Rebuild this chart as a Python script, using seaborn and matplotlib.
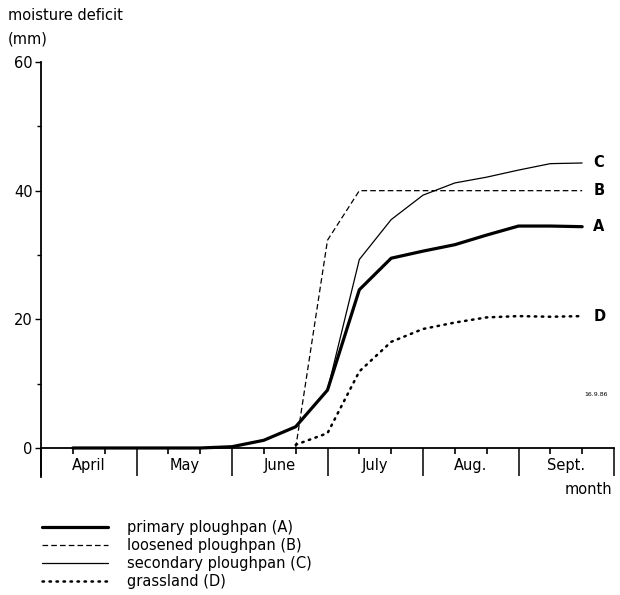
import matplotlib
matplotlib.use("Agg")
import matplotlib.pyplot as plt
import seaborn as sns

# Moisture deficit (mm) at the end of each ten-day period, counted from 1 April
decade = list(range(1, 18))
primary = [0, 0, 0, 0, 0, 0.2, 1.2, 3.3, 9.0, 24.6, 29.5, 30.6, 31.6, 33.1, 34.5, 34.5, 34.4]
secondary = [0, 0, 0, 0, 0, 0.2, 1.2, 3.3, 9.0, 29.3, 35.5, 39.3, 41.2, 42.1, 43.2, 44.2, 44.3]
late_decade = list(range(8, 18))
loosened = [0, 32.3, 40, 40, 40, 40, 40, 40, 40, 40]
grassland = [0.5, 2.3, 11.9, 16.5, 18.5, 19.5, 20.3, 20.5, 20.4, 20.5]

months = ["April", "May", "June", "July", "Aug.", "Sept."]
y_major = [0, 20, 40, 60]
y_minor = [10, 30, 50]

sns.set_theme(style="white")
plt.rcParams["font.family"] = ["DejaVu Sans"]

W, H = 620, 595
fig = plt.figure(figsize=(W / 100, H / 100), dpi=100)
fig.patch.set_facecolor("white")

# axes frame: x from 1 April (0) to 30 Sept (18 ten-day periods)
ax_left, ax_right, ax_top, ax_bottom = 41, 614, 62, 477
ax = fig.add_axes([ax_left / W, 1 - ax_bottom / H, (ax_right - ax_left) / W, (ax_bottom - ax_top) / H])
ax.set_facecolor("white")
ymin = -4.51
ax.set_xlim(0, 18)
ax.set_ylim(ymin, 60)

series = [
    ("primary ploughpan (A)", decade, primary, dict(lw=2.3, linestyle="-"), "A"),
    ("loosened ploughpan (B)", late_decade, loosened, dict(lw=0.9, linestyle=(0, (4.5, 2.5))), "B"),
    ("secondary ploughpan (C)", decade, secondary, dict(lw=0.9, linestyle="-"), "C"),
    ("grassland (D)", late_decade, grassland, dict(lw=1.8, linestyle=(0, (0.6, 2.2)), dash_capstyle="round"), "D"),
]

for label, xs, ys, style, tag in series:
    sns.lineplot(x=xs, y=ys, ax=ax, color="black", label=label, **style)
    ax.text(17.35, ys[-1], tag, fontsize=10.5, fontweight="bold", ha="left", va="center", color="black")

# spines
for s in ("top", "right"):
    ax.spines[s].set_visible(False)
ax.spines["bottom"].set_position(("data", 0))
ax.spines["bottom"].set_linewidth(1.3)
ax.spines["left"].set_linewidth(1.3)
ax.spines["bottom"].set_color("black")
ax.spines["left"].set_color("black")

# x ticks: long at month boundaries, short at ten-day marks
ax.set_xticks(list(range(0, 19, 3)))
ax.set_xticks([d for d in range(1, 18) if d % 3], minor=True)
ax.tick_params(axis="x", which="major", direction="out", length=20, width=1.1, color="black",
               labelbottom=False, bottom=True)
ax.tick_params(axis="x", which="minor", direction="out", length=4, width=1.2, color="black", bottom=True)

for i, m in enumerate(months):
    ax.text(1.5 + 3 * i, -2.65, m, ha="center", va="center", fontsize=10.5, color="black")

# y ticks
ax.set_yticks(y_major)
ax.set_yticks(y_minor, minor=True)
ax.tick_params(axis="y", which="major", direction="out", length=4.5, width=1.0, color="black",
               labelsize=10.5, pad=1.5, left=True, labelcolor="black")
ax.tick_params(axis="y", which="minor", direction="out", length=3, width=1.0, color="black", left=True)
ax.grid(False)

ax.set_xlabel("")
ax.set_ylabel("")

fig.text(8 / W, 1 - 16 / H, "moisture deficit", ha="left", va="center", fontsize=10.5, color="black")
fig.text(8 / W, 1 - 39 / H, "(mm)", ha="left", va="center", fontsize=10.5, color="black")
fig.text(612 / W, 1 - 489 / H, "month", ha="right", va="center", fontsize=10.5, color="black")
fig.text(596 / W, 1 - 395 / H, "16.9.86", ha="center", va="center", fontsize=4.5, color="black")

leg = ax.legend(loc="upper left", bbox_to_anchor=(42 / W, 1 - 520 / H), bbox_transform=fig.transFigure,
                frameon=False, fontsize=10.5, handlelength=4.5, handletextpad=1.3,
                borderpad=0, borderaxespad=0, labelspacing=0.2)
for t in leg.get_texts():
    t.set_color("black")

fig.savefig("out.png", dpi=100, facecolor="white")
